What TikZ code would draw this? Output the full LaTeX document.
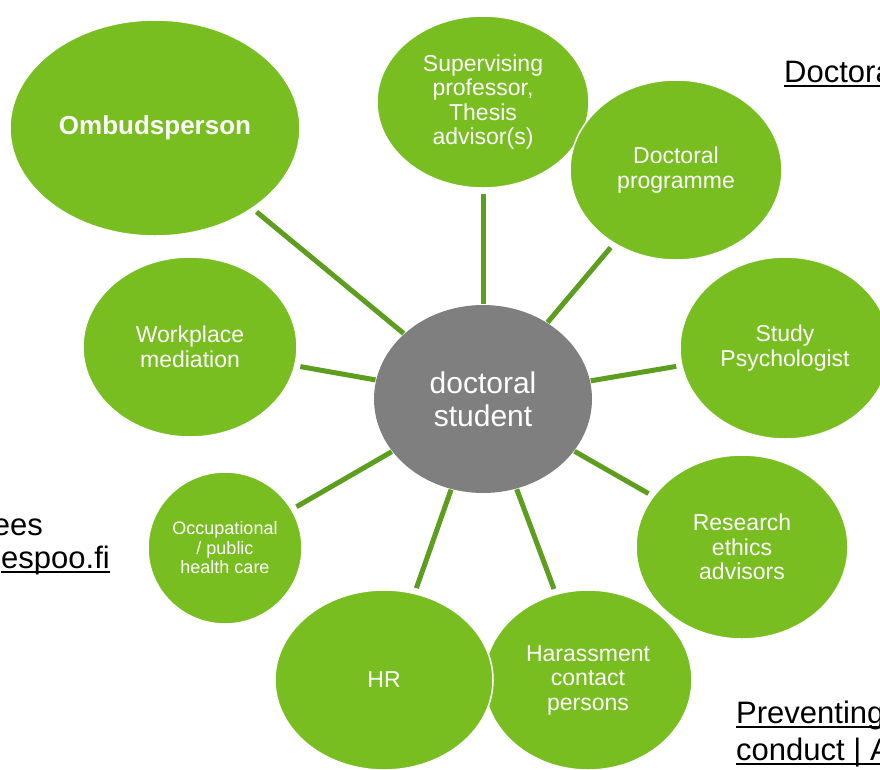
\documentclass[tikz,border=0pt]{standalone}
\usepackage{fontspec}
\setmainfont{Liberation Sans}
\usetikzlibrary{shapes.geometric}
\definecolor{gfill}{HTML}{78BE20}
\definecolor{gline}{HTML}{5E9E1E}
\definecolor{greyfill}{HTML}{7F7F7F}
\newcommand\myul[1]{\setbox0\hbox{#1}\rlap{\rule[-0.15em]{\wd0}{0.065em}}\box0}
\begin{document}
\begin{tikzpicture}[x=1pt,y=-1pt,
  bubble/.style={ellipse, fill=gfill, draw=white, line width=1.5pt, inner sep=0pt,
    text=white, align=center, font=\fontsize{23}{24.5}\selectfont},
  link/.style={draw=gline, line width=5pt, shorten >=5pt},
  frag/.style={inner sep=0pt, font=\fontsize{31}{34}\selectfont, text=black}]
\useasboundingbox (0,0) rectangle (880,769);

% bubbles
\node[bubble, minimum width=290pt, minimum height=216pt,
  font=\bfseries\fontsize{26}{28}\selectfont] (omb) at (155,128) {Ombudsperson};
\node[bubble, minimum width=212pt, minimum height=172pt] (sup) at (483,102)
  {Supervising\\professor,\\Thesis\\advisor(s)};
\node[bubble, minimum width=212pt, minimum height=180pt] (prog) at (676,170)
  {Doctoral\\programme};
\node[bubble, minimum width=210pt, minimum height=182pt] (psy) at (785,348)
  {Study\\Psychologist};
\node[bubble, minimum width=212pt, minimum height=184pt] (eth) at (742,547)
  {Research\\ethics\\advisors};
\node[bubble, minimum width=208pt, minimum height=180pt] (har) at (588,680)
  {Harassment\\contact\\persons};
\node[bubble, minimum width=218pt, minimum height=180pt] (hr) at (384,680) {HR};
\node[bubble, minimum width=154pt, minimum height=152pt,
  font=\fontsize{18}{19.5}\selectfont] (occ) at (225,548)
  {Occupational\\/ public\\health care};
\node[bubble, minimum width=214pt, minimum height=180pt] (wrk) at (190,347)
  {Workplace\\mediation};

% centre
\node[bubble, fill=greyfill, draw=none, minimum width=218pt, minimum height=188pt,
  font=\fontsize{30}{33}\selectfont] (stu) at (483,399) {doctoral\\student};

% connectors
\draw[link] (stu) -- (omb);
\draw[link] (stu) -- (sup);
\draw[link] (stu) -- (prog);
\draw[link] (stu) -- (psy);
\draw[link] (stu) -- (eth);
\draw[link] (stu) -- (har);
\draw[link] (stu) -- (hr);
\draw[link] (stu) -- (occ);
\draw[link] (stu) -- (wrk);

% text fragments
\node[frag, anchor=base west] (fdoc) at (784,82) {\myul{Doctora}};
\node[frag, anchor=base east] (fees) at (43,535) {ees};
\node[frag, anchor=base east] (fesp) at (110,568) {\myul{espoo.fi}};
\node[frag, anchor=base west] (fprev) at (736,723) {\myul{Preventing}};
\node[frag, anchor=base west] (fcond) at (736,760) {\myul{conduct | A}};
\end{tikzpicture}
\end{document}
